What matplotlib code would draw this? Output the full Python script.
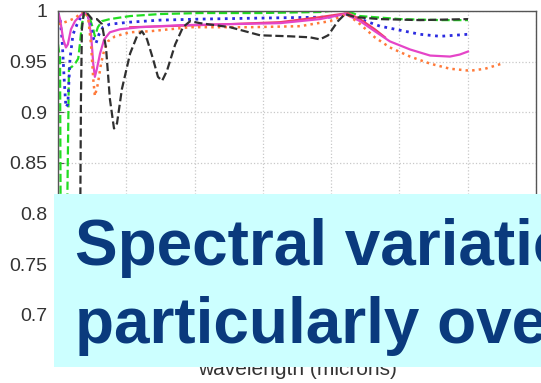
import matplotlib.pyplot as plt
from matplotlib.patches import Rectangle
from matplotlib.ticker import FormatStrFormatter

# wavelength (microns) and efficiency
green_x = [0.000, 0.015, 0.022, 0.058, 0.080, 0.102, 0.125, 0.148, 0.160, 0.175, 0.190, 0.205, 0.235,
           0.258, 0.270, 0.292, 0.322, 0.380, 0.528, 0.748, 1.040, 1.480, 1.918, 2.065, 2.138, 2.212,
           2.505, 2.798, 3.002]
green_y = [0.967, 0.953, 0.700, 0.700, 0.943, 0.945, 0.948, 0.953, 0.967, 0.987, 0.996, 0.998, 0.992,
           0.982, 0.975, 0.984, 0.990, 0.992, 0.995, 0.997, 0.998, 0.998, 0.999, 1.001, 0.999, 0.995,
           0.992, 0.991, 0.991]

blue_x = [0.000, 0.015, 0.030, 0.045, 0.058, 0.072, 0.088, 0.110, 0.140, 0.175, 0.198, 0.220, 0.242,
          0.262, 0.278, 0.300, 0.330, 0.380, 0.528, 0.748, 1.040, 1.480, 1.992, 2.102, 2.212, 2.358,
          2.505, 2.650, 2.798, 3.002]
blue_y = [0.998, 0.992, 0.972, 0.933, 0.905, 0.908, 0.953, 0.977, 0.987, 0.996, 0.999, 0.995, 0.984,
          0.972, 0.968, 0.977, 0.984, 0.987, 0.989, 0.991, 0.992, 0.993, 0.994, 0.997, 0.992, 0.985,
          0.981, 0.977, 0.975, 0.977]

magenta_x = [0.000, 0.015, 0.038, 0.058, 0.072, 0.095, 0.125, 0.160, 0.190, 0.220, 0.242, 0.258, 0.270,
             0.285, 0.308, 0.338, 0.380, 0.455, 0.600, 0.892, 1.260, 1.625, 1.918, 2.102, 2.212, 2.320,
             2.430, 2.578, 2.725, 2.870, 2.942, 3.002]
magenta_y = [0.999, 0.992, 0.972, 0.964, 0.967, 0.982, 0.990, 0.995, 0.999, 0.995, 0.977, 0.948, 0.935,
             0.943, 0.958, 0.972, 0.979, 0.982, 0.984, 0.986, 0.987, 0.988, 0.992, 0.997, 0.990, 0.980,
             0.970, 0.962, 0.956, 0.955, 0.957, 0.960]

red_x = [0.528, 1.040, 1.625, 1.918, 2.122, 2.212, 2.320, 2.395]
red_y = [0.984, 0.986, 0.989, 0.994, 0.998, 0.992, 0.982, 0.974]

orange_x = [0.000, 0.030, 0.072, 0.125, 0.160, 0.190, 0.220, 0.242, 0.258, 0.270, 0.292, 0.315, 0.338,
            0.365, 0.418, 0.528, 0.672, 0.968, 1.405, 1.772, 1.992, 2.115, 2.212, 2.320, 2.430, 2.578,
            2.725, 2.870, 3.018, 3.128, 3.250]
orange_y = [0.987, 0.988, 0.990, 0.993, 0.997, 1.000, 0.994, 0.967, 0.933, 0.916, 0.928, 0.948, 0.961,
            0.970, 0.975, 0.979, 0.980, 0.984, 0.984, 0.985, 0.990, 0.997, 0.987, 0.974, 0.964, 0.955,
            0.948, 0.943, 0.941, 0.943, 0.948]

black_x = [0.155, 0.168, 0.175, 0.190, 0.212, 0.250, 0.285, 0.322, 0.352, 0.380, 0.410, 0.432, 0.468,
           0.528, 0.578, 0.615, 0.652, 0.695, 0.732, 0.762, 0.798, 0.858, 0.915, 0.968, 1.040, 1.260,
           1.480, 1.700, 1.845, 1.918, 1.978, 2.050, 2.102, 2.175, 2.358, 2.650, 3.002]
black_y = [0.617, 0.913, 0.982, 1.000, 0.998, 0.992, 0.992, 0.987, 0.963, 0.913, 0.884, 0.889, 0.923,
           0.958, 0.975, 0.980, 0.972, 0.953, 0.935, 0.931, 0.941, 0.967, 0.984, 0.990, 0.988, 0.984,
           0.976, 0.975, 0.974, 0.972, 0.976, 0.990, 0.997, 0.994, 0.992, 0.991, 0.992]

x_ticks = [0, 0.5, 1, 1.5, 2, 2.5, 3, 3.5]
y_ticks = [0.7, 0.75, 0.8, 0.85, 0.9, 0.95, 1.0]

slide_lines = ["Spectral variation", "particularly over"]

plt.rcParams["font.family"] = ["Liberation Sans", "DejaVu Sans"]

fig = plt.figure(figsize=(5.41, 3.83), dpi=100)
ax = fig.add_axes([58 / 541, 1 - 330 / 383, 478 / 541, 319 / 383])

ax.plot(green_x, green_y, color="#22dd22", ls="--", lw=1.6)
ax.plot(blue_x, blue_y, color="#2b2be0", ls=":", lw=2.0)
ax.plot(red_x, red_y, color="#f03c64", ls="-", lw=1.5)
ax.plot(magenta_x, magenta_y, color="#e545c8", ls="-", lw=1.6)
ax.plot(orange_x, orange_y, color="#ff7a3a", ls=":", lw=1.8)
ax.plot(black_x, black_y, color="#303030", ls="--", lw=1.6)

ax.set_xlim(0, 3.5)
ax.set_ylim(0.685, 1.0)
ax.set_xticks(x_ticks)
ax.set_yticks(y_ticks)
ax.xaxis.set_major_formatter(FormatStrFormatter("%g"))
ax.yaxis.set_major_formatter(FormatStrFormatter("%g"))
ax.tick_params(direction="in", length=4, labelsize=14, labelcolor="#333333", pad=8, color="#555555")
ax.tick_params(axis="x", labelsize=12, pad=5)
ax.grid(True, color="#c8c8c8", ls=":", lw=0.9)
for s in ax.spines.values():
    s.set_color("#555555")
    s.set_linewidth(1.0)

ax.set_xlabel("wavelength (microns)", fontsize=15, color="#333333")
ax.xaxis.set_label_coords(0.5, -0.094)
ax.xaxis.label.set_va("top")

# slide box on top of the plot, it hides the x tick labels
box = Rectangle((54 / 541, 1 - 367 / 383), 1.0, 173 / 383, transform=fig.transFigure,
                facecolor="#ccffff", edgecolor="none", zorder=5)
fig.add_artist(box)
fig.text(75 / 541, 1 - 265 / 383, slide_lines[0], fontsize=46, fontweight="bold",
         color="#0a3a7d", va="baseline", ha="left", zorder=6)
fig.text(75 / 541, 1 - 343 / 383, slide_lines[1], fontsize=46, fontweight="bold",
         color="#0a3a7d", va="baseline", ha="left", zorder=6)

fig.savefig("out.png", dpi=100)
